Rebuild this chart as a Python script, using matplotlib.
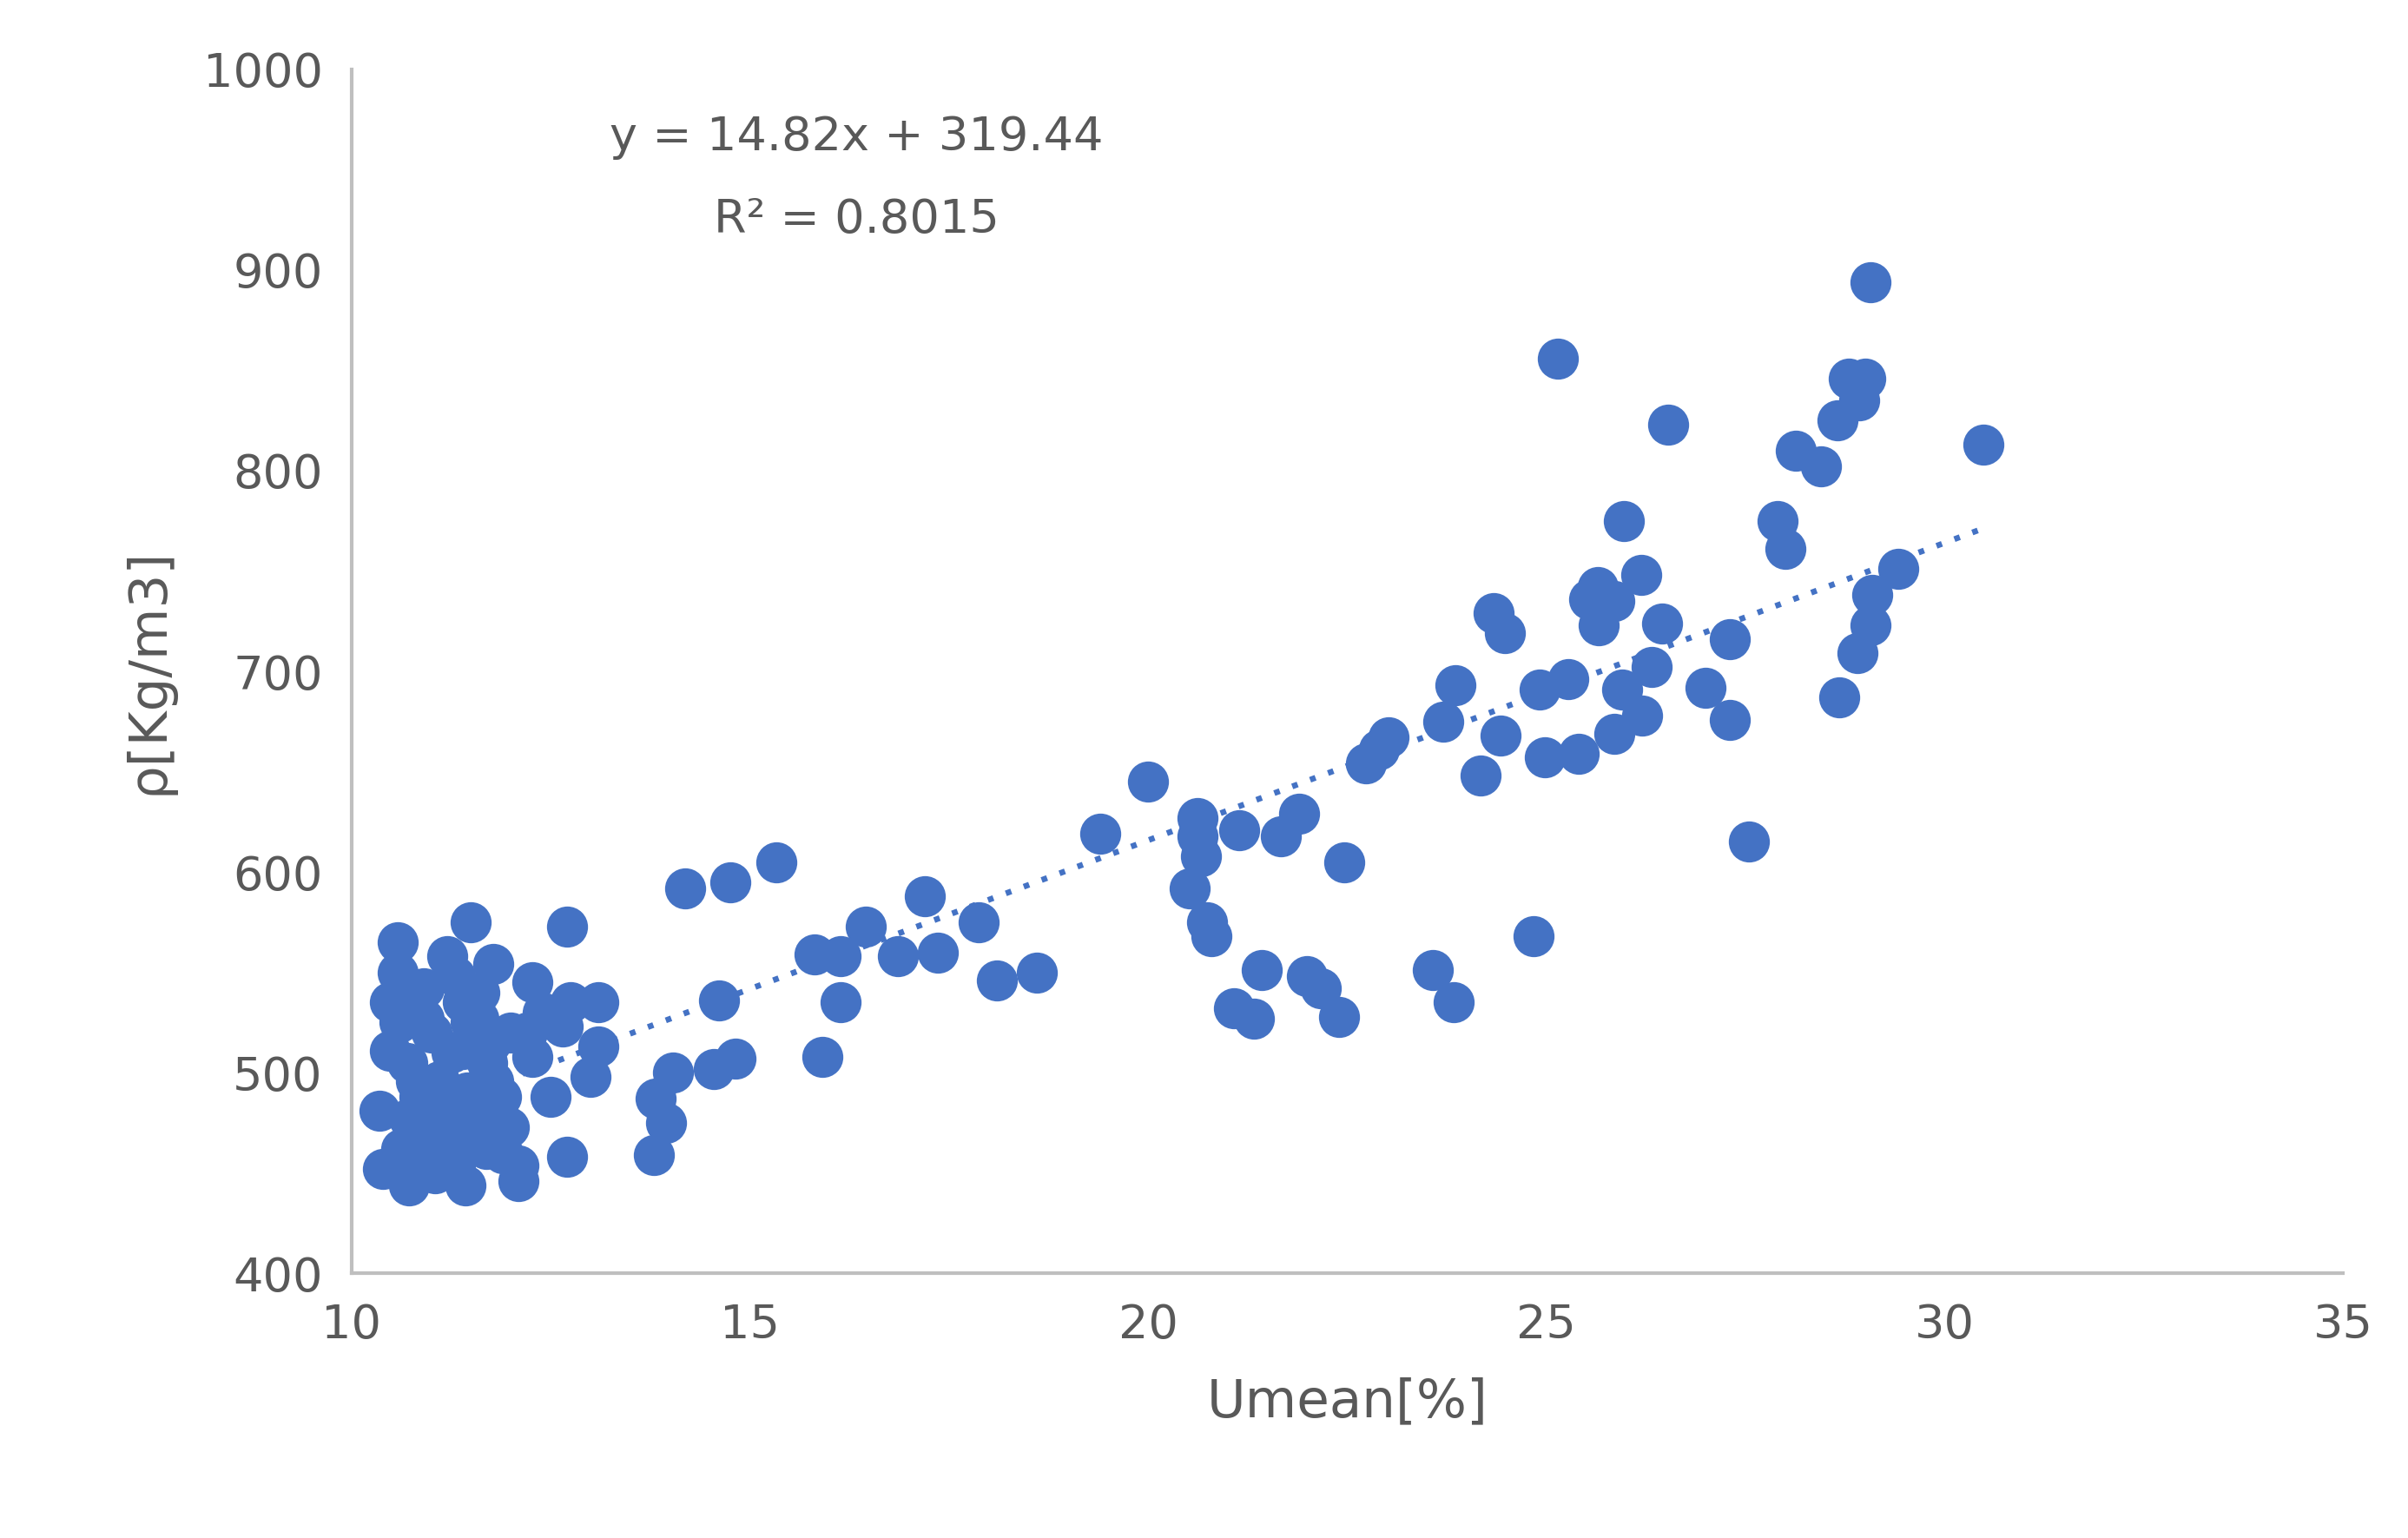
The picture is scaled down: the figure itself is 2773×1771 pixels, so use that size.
import numpy as np
import matplotlib
matplotlib.use("Agg")
import matplotlib.pyplot as plt

# data
umean = [29.07, 25.14, 26.53, 30.48, 28.8, 29.0, 28.93, 28.65, 28.13, 28.45,
         27.9, 28.0, 25.97, 26.19, 25.64, 25.54, 25.85, 25.66, 26.45, 29.42,
         29.09, 29.07, 28.9, 28.68, 27.3, 24.34, 24.48, 25.27, 24.92, 25.95,
         26.32, 27.0, 27.3, 26.2, 25.85, 24.42, 23.86, 23.7, 24.98, 25.4,
         24.17, 23.02, 22.9, 22.73, 27.54, 24.84, 22.46, 23.84, 23.57, 22.4,
         22.17, 21.99, 21.9, 21.67, 21.14, 21.43, 21.33, 21.08, 20.62, 20.62,
         20.66, 20.52, 20.74, 20.79, 20.0, 19.4, 18.6, 18.1, 17.87, 17.36,
         17.2, 16.86, 16.45, 16.14, 15.81, 16.14, 15.91, 15.33, 14.75, 14.19,
         14.61, 14.82, 14.55, 14.03, 13.82, 13.95, 13.8,
         10.58, 11.49, 12.71, 11.78, 11.3, 12.27, 13.1, 12.75, 12.65, 13.1,
         13.0, 12.27, 12.5, 12.7, 12.1, 12.1, 11.43, 10.72, 10.39, 10.35,
         10.48, 10.48, 10.58, 10.91, 11.1, 10.81, 11.2, 11.59, 11.78, 11.4,
         11.0, 10.62, 11.3, 11.69, 11.98, 11.88, 10.91, 11.4, 11.2, 11.59,
         10.81, 11.05, 10.72,
         10.7, 11.0, 11.25, 11.5, 11.75, 12.0, 10.85, 11.15, 11.45, 11.7,
         12.2, 10.6, 11.35, 11.9, 12.4, 10.95, 11.6]
rho = [894, 856, 823, 813, 846, 846, 835, 825, 810, 802,
       775, 761, 775, 748, 742, 736, 735, 723, 724, 751,
       738, 723, 709, 687, 716, 729, 719, 696, 691, 691,
       702, 692, 676, 678, 669, 668, 693, 675, 657, 659,
       648, 667, 661, 654, 615, 568, 605, 535, 551, 528,
       542, 548, 629, 618, 621, 551, 527, 532, 627, 618,
       608, 592, 575, 568, 645, 619, 550, 546, 575, 560,
       588, 558, 573, 558, 559, 535, 508, 605, 595, 592,
       536, 507, 502, 500, 487, 475, 459,
       565, 575, 573, 554, 548, 545, 535, 535, 523, 513,
       498, 508, 488, 458, 454, 446, 444, 444, 452, 481,
       511, 535, 550, 527, 496, 496, 465, 481, 496, 512,
       481, 462, 454, 462, 473, 488, 542, 535, 558, 527,
       465, 450, 477,
       505, 520, 510, 525, 515, 520, 488, 470, 490, 505,
       520, 525, 475, 460, 530, 455, 540]
slope, intercept = 14.82, 319.44

fig = plt.figure(figsize=(13.865, 8.855), dpi=200)
ax = fig.add_axes([0.146, 0.172, 0.827, 0.783])
blue = "#4472c4"
grey = "#595959"
ax.scatter(umean, rho, s=290, color=blue, zorder=3, linewidths=0)
xt = np.array([10.35, 30.48])
ax.plot(xt, slope * xt + intercept, color=blue, lw=2.4, linestyle=(0, (1, 2.3)), zorder=2)

ax.set_xlim(10, 35)
ax.set_ylim(400, 1000)
ax.set_xticks(range(10, 36, 5))
ax.set_yticks(range(400, 1001, 100))
for s in ["top", "right"]:
    ax.spines[s].set_visible(False)
for s in ["left", "bottom"]:
    ax.spines[s].set_color("#bfbfbf")
    ax.spines[s].set_linewidth(1.5)
ax.tick_params(length=0, labelsize=19.5, colors=grey, pad=12)
ax.set_xlabel("Umean[%]", fontsize=22, color=grey, labelpad=12)
ax.set_ylabel("ρ[Kg/m3]", fontsize=22, color=grey, labelpad=12)
ax.text(16.34, 966, "y = 14.82x + 319.44", fontsize=19.5, color=grey, ha="center", va="center")
ax.text(16.34, 925, "R² = 0.8015", fontsize=19.5, color=grey, ha="center", va="center")

fig.savefig("out.png")
